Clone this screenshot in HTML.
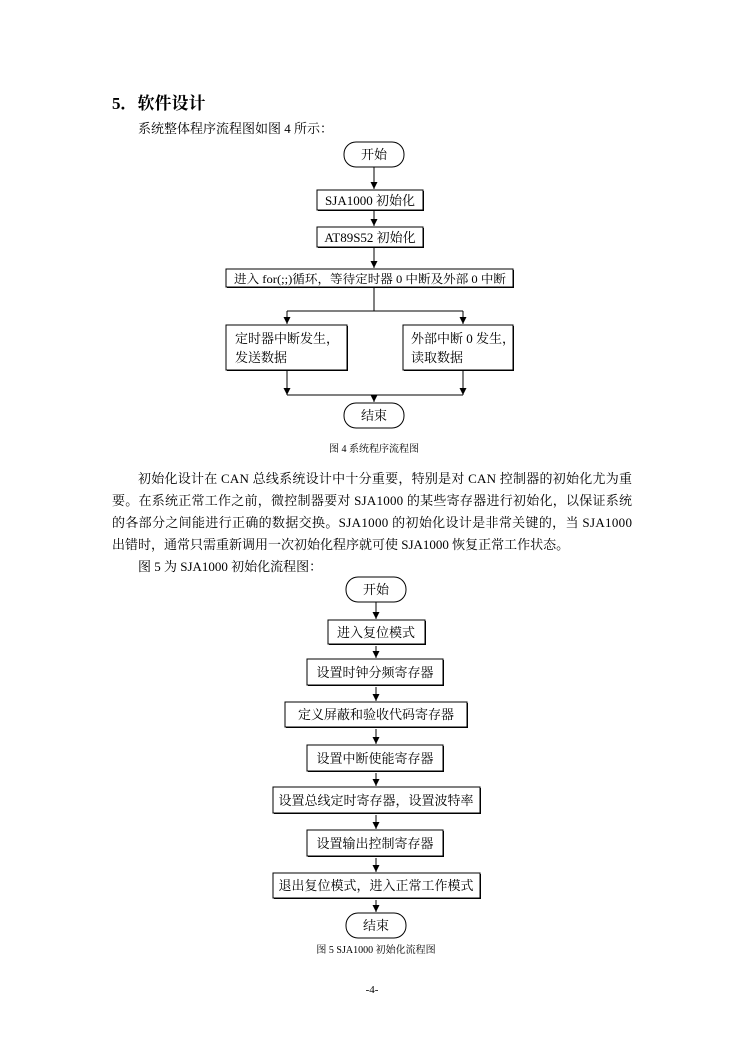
<!DOCTYPE html>
<html><head><meta charset="utf-8"><style>
html,body{margin:0;padding:0;background:#fff}
svg{display:block}
text{font-family:"Liberation Serif","Noto Serif CJK SC",serif;fill:#000}
</style></head><body>
<svg width="744" height="1052" viewBox="0 0 744 1052" xmlns="http://www.w3.org/2000/svg">
<defs>
<marker id="a" markerWidth="8" markerHeight="8" refX="7" refY="4" orient="auto" markerUnits="userSpaceOnUse"><path d="M0,0.5 L7,4 L0,7.5 Z" fill="#000"/></marker>
</defs>
<text x="112" y="109" font-size="17" font-weight="bold">5．软件设计</text>
<text x="138" y="133" font-size="13">系统整体程序流程图如图 4 所示：</text>

<g stroke="#000" fill="#fff" stroke-width="1">
<rect x="344" y="142" width="60" height="25" rx="12"/>
<rect x="318" y="191" width="106" height="20" fill="#000" stroke="none"/><rect x="317" y="190" width="106" height="20"/>
<rect x="318" y="228" width="106" height="20" fill="#000" stroke="none"/><rect x="317" y="227" width="106" height="20"/>
<rect x="227" y="270" width="287" height="18" fill="#000" stroke="none"/><rect x="226" y="269" width="287" height="18"/>
<rect x="227" y="326" width="121" height="45" fill="#000" stroke="none"/><rect x="226" y="325" width="121" height="45"/>
<rect x="404" y="326" width="110" height="45" fill="#000" stroke="none"/><rect x="403" y="325" width="110" height="45"/>
<rect x="344" y="403" width="60" height="25" rx="12"/>
</g>
<g stroke="#000" stroke-width="1" fill="none">
<line x1="374" y1="167" x2="374" y2="189" marker-end="url(#a)"/>
<line x1="374" y1="211" x2="374" y2="226" marker-end="url(#a)"/>
<line x1="374" y1="248" x2="374" y2="268" marker-end="url(#a)"/>
<line x1="374" y1="288" x2="374" y2="311"/>
<polyline points="287,311 463,311"/>
<line x1="287" y1="311" x2="287" y2="324" marker-end="url(#a)"/>
<line x1="463" y1="311" x2="463" y2="324" marker-end="url(#a)"/>
<line x1="287" y1="371" x2="287" y2="395" marker-end="url(#a)"/>
<line x1="463" y1="371" x2="463" y2="395" marker-end="url(#a)"/>
<line x1="287" y1="395" x2="463" y2="395"/>
<line x1="374" y1="395" x2="374" y2="402" marker-end="url(#a)"/>
</g>
<g font-size="13">
<text x="374" y="159" text-anchor="middle">开始</text>
<text x="370" y="205" text-anchor="middle">SJA1000 初始化</text>
<text x="370" y="242" text-anchor="middle">AT89S52 初始化</text>
<text x="234" y="283" font-size="12" textLength="272" lengthAdjust="spacingAndGlyphs">进入 for(;;)循环，等待定时器 0 中断及外部 0 中断</text>
<text x="235" y="343">定时器中断发生，</text>
<text x="235" y="362">发送数据</text>
<text x="411" y="343">外部中断 0 发生，</text>
<text x="411" y="362">读取数据</text>
<text x="374" y="420" text-anchor="middle">结束</text>
</g>
<text x="374" y="452" font-size="10" text-anchor="middle">图 4  系统程序流程图</text>

<g font-size="13">
<text x="138" y="483" textLength="494" lengthAdjust="spacing">初始化设计在 CAN 总线系统设计中十分重要，特别是对 CAN 控制器的初始化尤为重</text>
<text x="112" y="505" textLength="520" lengthAdjust="spacing">要。在系统正常工作之前，微控制器要对 SJA1000 的某些寄存器进行初始化，以保证系统</text>
<text x="112" y="527" textLength="520" lengthAdjust="spacing">的各部分之间能进行正确的数据交换。SJA1000 的初始化设计是非常关键的，当 SJA1000</text>
<text x="112" y="549">出错时，通常只需重新调用一次初始化程序就可使 SJA1000 恢复正常工作状态。</text>
<text x="138" y="571">图 5 为 SJA1000 初始化流程图：</text>
</g>

<g stroke="#000" fill="#fff" stroke-width="1">
<rect x="346" y="577" width="60" height="25" rx="12"/>
<rect x="329" y="621" width="97" height="24" fill="#000" stroke="none"/><rect x="328" y="620" width="97" height="24"/>
<rect x="308" y="660" width="136" height="26" fill="#000" stroke="none"/><rect x="307" y="659" width="136" height="26"/>
<rect x="286" y="703" width="182" height="25" fill="#000" stroke="none"/><rect x="285" y="702" width="182" height="25"/>
<rect x="308" y="746" width="136" height="26" fill="#000" stroke="none"/><rect x="307" y="745" width="136" height="26"/>
<rect x="274" y="788" width="207" height="26" fill="#000" stroke="none"/><rect x="273" y="787" width="207" height="26"/>
<rect x="308" y="831" width="136" height="26" fill="#000" stroke="none"/><rect x="307" y="830" width="136" height="26"/>
<rect x="274" y="874" width="207" height="25" fill="#000" stroke="none"/><rect x="273" y="873" width="207" height="25"/>
<rect x="346" y="913" width="60" height="25" rx="12"/>
</g>
<g stroke="#000" stroke-width="1">
<line x1="376" y1="602" x2="376" y2="619" marker-end="url(#a)"/>
<line x1="376" y1="646" x2="376" y2="658" marker-end="url(#a)"/>
<line x1="376" y1="687" x2="376" y2="701" marker-end="url(#a)"/>
<line x1="376" y1="729" x2="376" y2="744" marker-end="url(#a)"/>
<line x1="376" y1="773" x2="376" y2="786" marker-end="url(#a)"/>
<line x1="376" y1="815" x2="376" y2="829" marker-end="url(#a)"/>
<line x1="376" y1="858" x2="376" y2="872" marker-end="url(#a)"/>
<line x1="376" y1="900" x2="376" y2="912" marker-end="url(#a)"/>
</g>
<g font-size="13" text-anchor="middle">
<text x="376" y="594">开始</text>
<text x="376" y="637">进入复位模式</text>
<text x="375" y="677">设置时钟分频寄存器</text>
<text x="376" y="719">定义屏蔽和验收代码寄存器</text>
<text x="375" y="763">设置中断使能寄存器</text>
<text x="376" y="805" textLength="195" lengthAdjust="spacingAndGlyphs">设置总线定时寄存器，设置波特率</text>
<text x="375" y="848">设置输出控制寄存器</text>
<text x="376" y="890" textLength="195" lengthAdjust="spacingAndGlyphs">退出复位模式，进入正常工作模式</text>
<text x="376" y="930">结束</text>
</g>
<text x="376" y="953" font-size="10" text-anchor="middle">图 5 SJA1000 初始化流程图</text>
<text x="372" y="993" font-size="11" text-anchor="middle">-4-</text>
</svg>
</body></html>
